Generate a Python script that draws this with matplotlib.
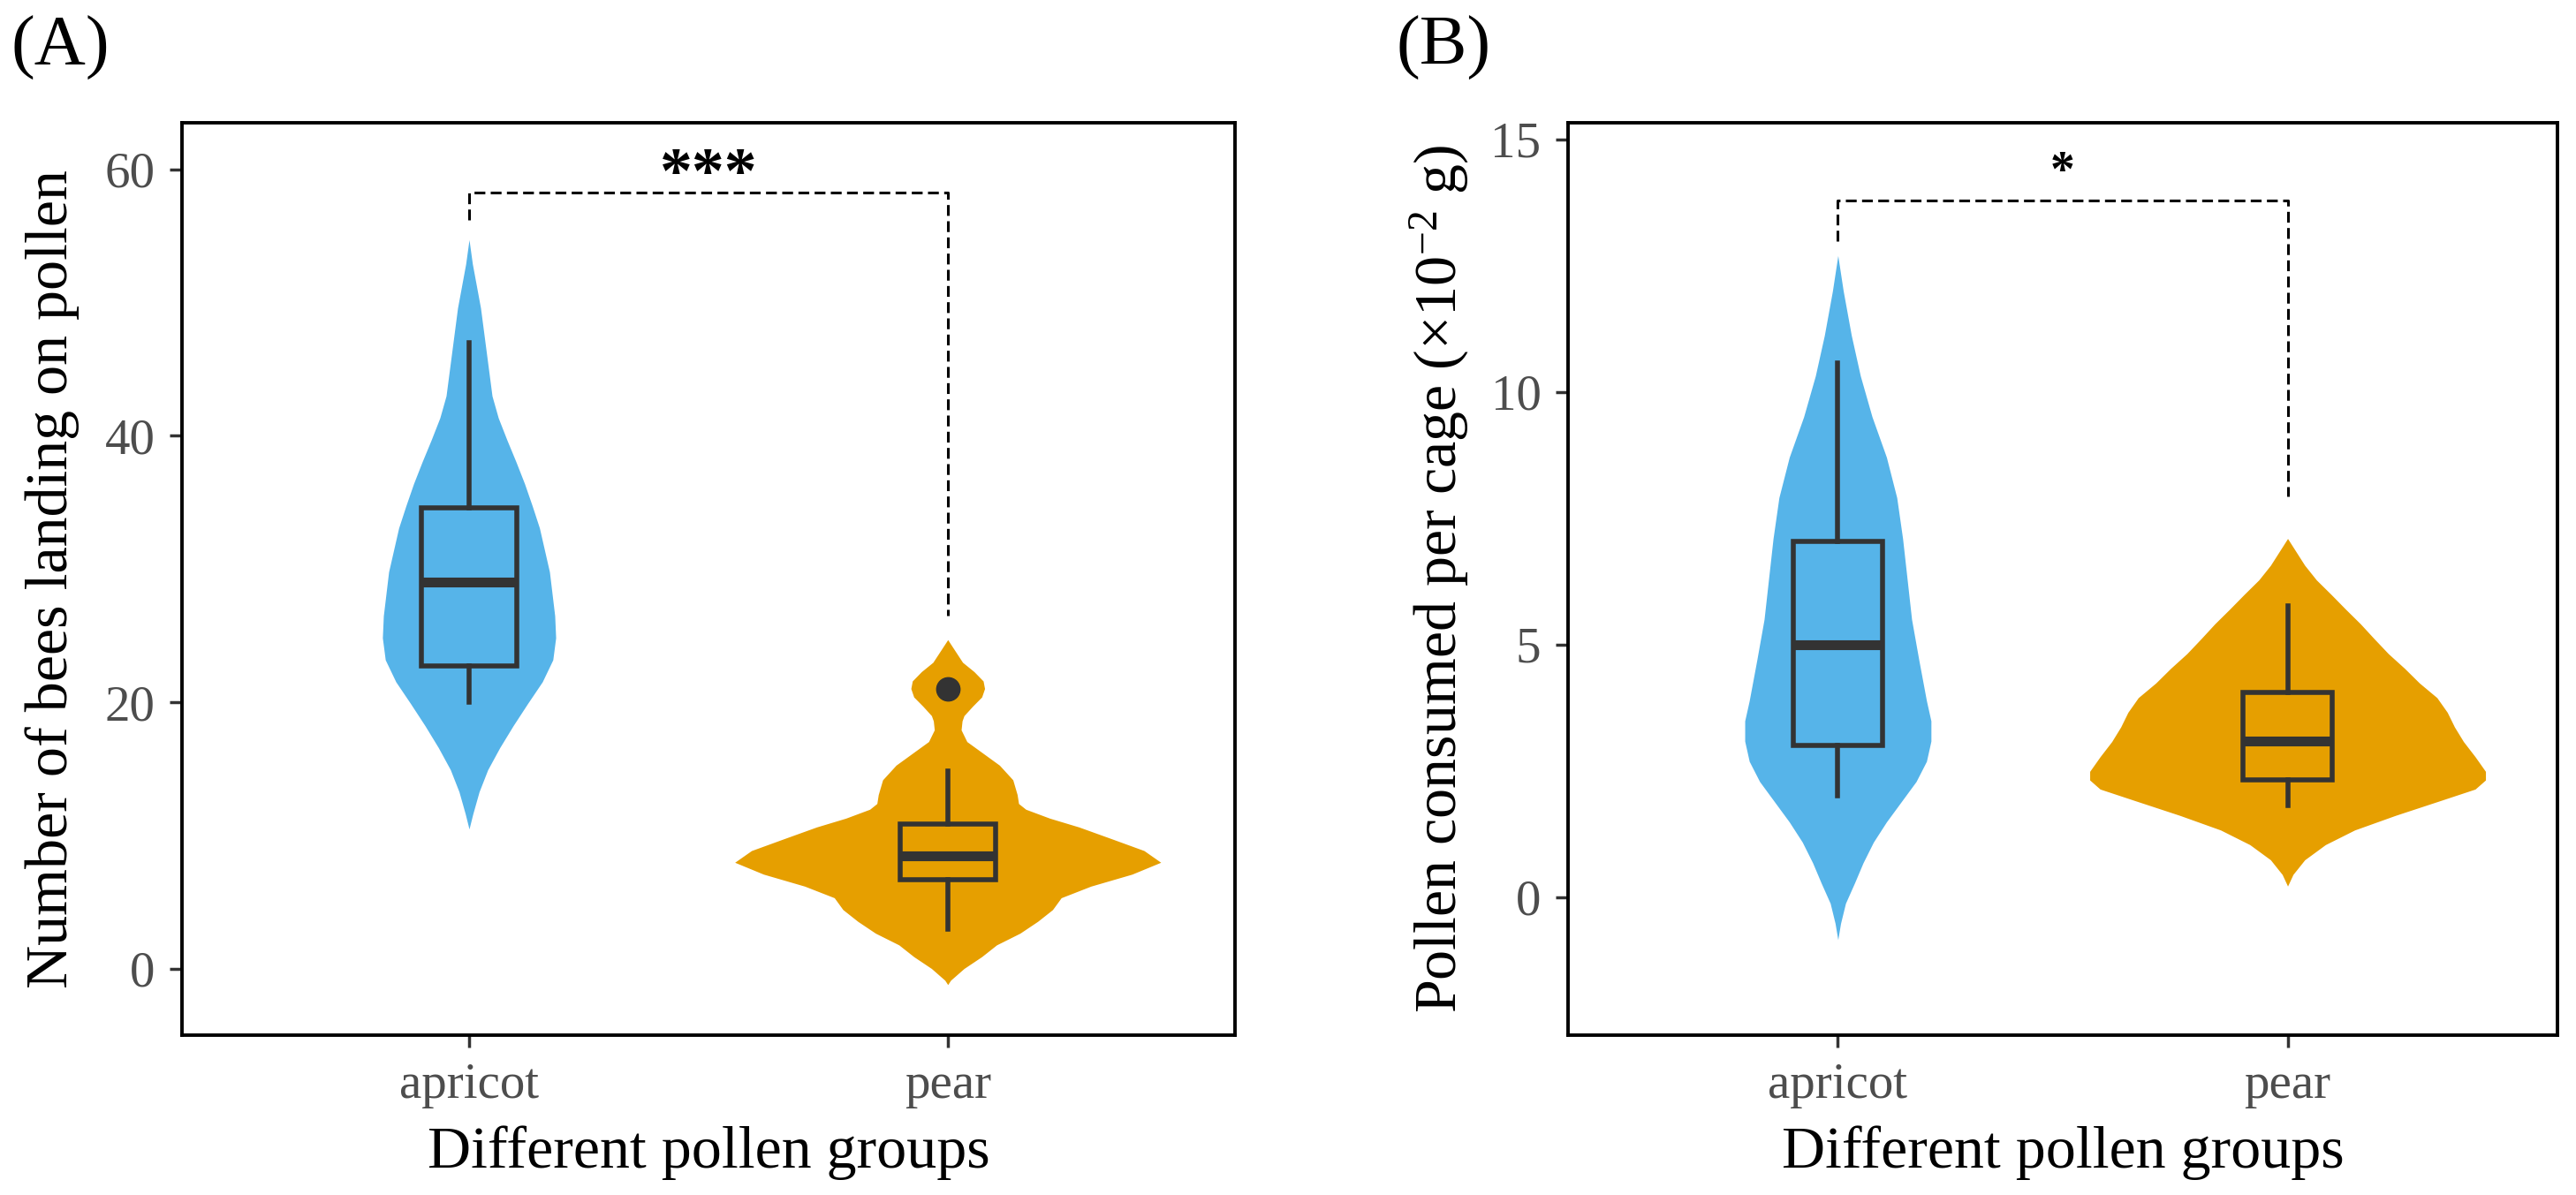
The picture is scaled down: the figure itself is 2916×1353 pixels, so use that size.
import matplotlib.pyplot as plt

plt.rcParams['font.family'] = ['Liberation Serif', 'DejaVu Serif']
plt.rcParams['mathtext.fontset'] = 'custom'
plt.rcParams['mathtext.rm'] = 'Liberation Serif'
plt.rcParams['mathtext.it'] = 'Liberation Serif:italic'

groups = ['apricot', 'pear']
colors = ['#56B4E9', '#E69F00']

# violin outlines: y value and half-width (x units)
a_apricot_y = [10.49, 11.64, 13.29, 14.94, 16.59, 18.24, 19.89, 21.54, 23.19, 24.84, 26.49,
               29.79, 33.09, 34.74, 36.4, 38.05, 39.7, 41.35, 43.0, 46.3, 49.6, 52.9, 54.72]
a_apricot_w = [0, 0.008, 0.021, 0.039, 0.064, 0.092, 0.122, 0.153, 0.175, 0.181, 0.179,
               0.168, 0.147, 0.132, 0.116, 0.098, 0.079, 0.061, 0.048, 0.036, 0.024, 0.007, 0]
a_pear_y = [-1.19, -0.86, 0.02, 0.91, 1.79, 2.67, 3.56, 4.44, 5.33, 6.2, 7.1, 7.99, 8.87, 9.76,
            10.64, 11.3, 11.97, 12.4, 13.08, 14.18, 15.28, 16.4, 17.05, 17.93, 18.6, 19.0,
            19.71, 20.4, 21.03, 21.6, 22.3, 23.0, 24.7]
a_pear_w = [0, 0.006, 0.034, 0.071, 0.102, 0.151, 0.188, 0.219, 0.237, 0.299, 0.385, 0.445,
            0.41, 0.342, 0.274, 0.213, 0.163, 0.148, 0.145, 0.136, 0.108, 0.065, 0.040, 0.028,
            0.030, 0.034, 0.052, 0.071, 0.077, 0.074, 0.055, 0.031, 0]
b_apricot_y = [-0.84, -0.52, -0.12, 0.28, 0.68, 1.09, 1.49, 1.89, 2.29, 2.69, 3.09, 3.49, 3.89,
               4.7, 5.5, 6.3, 7.1, 7.91, 8.71, 9.51, 10.32, 11.12, 12.0, 12.7]
b_apricot_w = [0, 0.006, 0.017, 0.037, 0.056, 0.079, 0.108, 0.141, 0.174, 0.197, 0.207, 0.207,
               0.197, 0.180, 0.164, 0.154, 0.144, 0.131, 0.108, 0.076, 0.050, 0.030, 0.012, 0]
b_pear_y = [0.22, 0.45, 0.74, 1.04, 1.33, 1.62, 1.91, 2.14, 2.32, 2.49, 2.78, 3.08, 3.37, 3.66,
            3.95, 4.24, 4.53, 4.82, 5.12, 5.41, 5.7, 5.99, 6.28, 6.57, 7.1]
b_pear_w = [0, 0.012, 0.038, 0.084, 0.149, 0.24, 0.339, 0.417, 0.44, 0.44, 0.417, 0.391, 0.371,
            0.355, 0.332, 0.293, 0.26, 0.224, 0.192, 0.162, 0.129, 0.097, 0.064, 0.038, 0]

# box plot summaries
a_stats = [dict(whislo=20.0, q1=22.7, med=29.0, q3=34.6, whishi=47.0, fliers=[]),
           dict(whislo=3.0, q1=6.7, med=8.5, q3=10.85, whishi=14.85, fliers=[21.0])]
b_stats = [dict(whislo=2.01, q1=3.01, med=4.99, q3=7.04, whishi=10.57, fliers=[]),
           dict(whislo=1.82, q1=2.33, med=3.09, q3=4.06, whishi=5.76, fliers=[])]

# significance brackets: left leg bottom, top, right leg bottom, label
a_sig = [56.2, 58.26, 26.5, '***']
b_sig = [12.99, 13.79, 7.93, '*']

fig = plt.figure(figsize=(29.16, 13.53), dpi=100)
axA = fig.add_axes([0.0706, 0.1338, 0.4088, 0.7635])
axB = fig.add_axes([0.6087, 0.1338, 0.3841, 0.7635])


def panel(ax, violins, stats, sig, star_size, star_off, ylim, yticks, ylabel):
    for i, (ys, ws) in enumerate(violins):
        left = [i + 1 - w for w in ws]
        right = [i + 1 + w for w in ws]
        ax.fill_betweenx(ys, left, right, color=colors[i], lw=0, zorder=1)
    bp = ax.bxp(stats, positions=[1, 2], widths=0.2, patch_artist=True, showcaps=False,
                boxprops=dict(linewidth=4, edgecolor='#333333'),
                whiskerprops=dict(linewidth=4, color='#333333'),
                medianprops=dict(linewidth=8, color='#333333', solid_capstyle='butt'),
                flierprops=dict(marker='o', markersize=19, markerfacecolor='#333333',
                                markeredgecolor='#333333'),
                zorder=2)
    for patch, c in zip(bp['boxes'], colors):
        patch.set_facecolor(c)
    lo1, top, lo2, lab = sig
    ax.plot([1, 1, 2, 2], [lo1, top, top, lo2], color='black', lw=2.2,
            linestyle=(0, (4, 2)), zorder=3)
    ax.text(1.5, top + star_off, lab, ha='center', va='baseline', fontsize=star_size,
            fontweight='bold')
    ax.set_xlim(0.4, 2.6)
    ax.set_ylim(*ylim)
    ax.set_yticks(yticks)
    ax.set_xticks([1, 2])
    ax.set_xticklabels(groups)
    for s in ax.spines.values():
        s.set_linewidth(2.8)
        s.set_color('black')
    ax.tick_params(length=10, width=2.5, color='#333333', labelcolor='#4D4D4D',
                   labelsize=41, pad=12)
    ax.set_xlabel('Different pollen groups', fontsize=49, labelpad=14)
    ax.set_ylabel(ylabel, fontsize=49)
    ax.yaxis.set_label_coords(-0.097, 0.5)


panel(axA, [(a_apricot_y, a_apricot_w), (a_pear_y, a_pear_w)], a_stats, a_sig, 53, 0.0,
      (-4.98, 63.5), [0, 20, 40, 60], 'Number of bees landing on pollen')
panel(axB, [(b_apricot_y, b_apricot_w), (b_pear_y, b_pear_w)], b_stats, b_sig, 40, 0.3,
      (-2.73, 15.33), [0, 5, 10, 15], 'Pollen consumed per cage (×10$^{-2}$ g)')

fig.text(13 / 2916, 1 - 74 / 1353, '(A)', fontsize=58, va='baseline')
fig.text(1581 / 2916, 1 - 74 / 1353, '(B)', fontsize=58, va='baseline')

fig.savefig('out.png', dpi=100)
